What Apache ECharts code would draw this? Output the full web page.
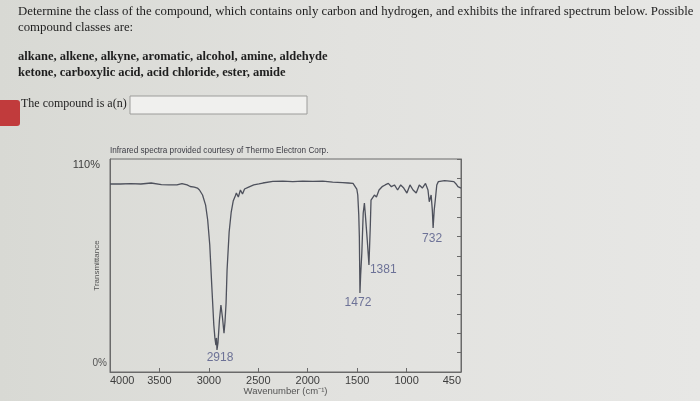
<!DOCTYPE html>
<html><head><meta charset="utf-8">
<script src="https://cdn.jsdelivr.net/npm/echarts@6/dist/echarts.min.js"></script>
<style>html,body{margin:0;padding:0;background:#dfe0dc}#c{width:700px;height:401px}</style>
</head><body><div id="c"></div>
<script>
const wavenumbers = [4000,3990,3896,3792,3688,3584,3480,3407,3324,3272,3220,3189,3147,3116,3095,3064,3033,3012,2991,2970,2950,2939,2929,2923,2918,2908,2893,2878,2862,2847,2837,2826,2816,2795,2774,2754,2733,2722,2702,2681,2660,2639,2598,2546,2494,2454,2353,2252,2151,2050,1949,1848,1748,1647,1590,1542,1523,1504,1494,1484,1478,1472,1465,1453,1439,1427,1417,1398,1381,1367,1360,1326,1305,1279,1248,1217,1185,1154,1123,1091,1060,1029,997,966,935,903,872,841,809,784,771,752,740,732,721,710,695,679,616,566,522,500,481,450];
const transmittance = [97.1,97.1,97.1,97.3,97.1,97.6,96.8,96.6,96.6,97.3,96.6,95.8,95.5,95.0,94.0,91.4,86.2,78.5,65.6,43.9,24.3,17.6,13.9,17.6,11.4,15.0,26.9,34.6,27.9,20.1,25.8,35.6,52.7,72.3,82.6,88.3,90.9,92.4,90.4,94.0,91.9,94.5,95.5,96.6,97.1,97.6,98.4,98.6,98.3,98.6,98.4,98.6,98.1,97.8,97.6,97.4,96.6,94.5,91.4,81.1,69.7,40.8,50.0,61.5,82.1,87.3,81.0,68.0,55.3,75.9,88.8,91.4,90.4,94.0,95.7,96.6,97.4,95.7,96.6,94.0,96.6,95.0,92.4,96.6,94.0,92.4,96.6,95.0,97.4,94.0,87.9,91.4,83.6,74.4,83.6,88.8,96.6,98.3,98.8,98.6,98.3,97.1,95.7,95.0];
const peakWavenumbers = [2918, 1472, 1381, 732];
const peakTransmittance = [11.4, 40.8, 55.3, 74.4];
const xTickValues = [4000, 3500, 3000, 2500, 2000, 1500, 1000, 450];
const yTickValues = [0, 110];
const rightTickValues = [0, 10, 20, 30, 40, 50, 60, 70, 80, 90, 100, 110];

const trace = wavenumbers.map((w, i) => [w, transmittance[i]]);
const peakLabelStyles = [
  {position: 'bottom', distance: 1, offset: [3, 1]},
  {position: 'bottom', distance: 3, offset: [-2, 1]},
  {position: 'right', distance: 1, offset: [0, 5]},
  {position: 'bottom', distance: 4, offset: [-1, 1]}
];
const peaks = peakWavenumbers.map((w, i) => ({value: [w, peakTransmittance[i]], label: peakLabelStyles[i]}));

const serif = '"Liberation Serif", "DejaVu Serif", serif';
const sans = '"Liberation Sans", Arial, sans-serif';
const peakColor = '#4f5585';
const chart = echarts.init(document.getElementById('c'), null, {renderer: 'canvas'});
chart.setOption({
  animation: false,
  backgroundColor: '#dfe0dc',
  graphic: [
    {type: 'rect', z: -10, shape: {x: 0, y: 0, width: 700, height: 401},
     style: {fill: new echarts.graphic.LinearGradient(0, 0, 1, 0, [{offset: 0, color: '#d8d9d4'}, {offset: 0.5, color: '#e2e2df'}, {offset: 1, color: '#e7e7e5'}])}},
    {type: 'text', left: 18, top: 5, style: {text: 'Determine the class of the compound, which contains only carbon and hydrogen, and exhibits the infrared spectrum below. Possible', font: '12.8px ' + serif, fill: '#1e1e1e'}},
    {type: 'text', left: 18, top: 21, style: {text: 'compound classes are:', font: '12.8px ' + serif, fill: '#1e1e1e'}},
    {type: 'text', left: 18, top: 50, style: {text: 'alkane, alkene, alkyne, aromatic, alcohol, amine, aldehyde', font: 'bold 12.5px ' + serif, fill: '#1e1e1e'}},
    {type: 'text', left: 18, top: 66, style: {text: 'ketone, carboxylic acid, acid chloride, ester, amide', font: 'bold 12.5px ' + serif, fill: '#1e1e1e'}},
    {type: 'rect', shape: {x: -6, y: 100, width: 26, height: 26, r: 3}, style: {fill: '#c13b3c'}},
    {type: 'text', left: 21, top: 98, style: {text: 'The compound is a(n)', font: '12px ' + serif, fill: '#1e1e1e'}},
    {type: 'rect', shape: {x: 130, y: 96, width: 177, height: 18}, style: {fill: '#f0f0ee', stroke: '#9c9c9a', lineWidth: 1}},
    {type: 'text', left: 110, top: 147, style: {text: 'Infrared spectra provided courtesy of Thermo Electron Corp.', font: '8.2px ' + sans, fill: '#3c3c44'}}
  ],
  grid: {left: 110, right: 239, top: 159, bottom: 29, show: true, borderColor: '#6a6a6a', borderWidth: 1, backgroundColor: 'transparent'},
  xAxis: {
    type: 'value', inverse: true, min: 450, max: 4000,
    name: 'Wavenumber (cm\u207B\u00B9)', nameLocation: 'middle', nameGap: 14, nameMoveOverlap: false,
    nameTextStyle: {fontFamily: sans, fontSize: 9.5, color: '#555'},
    axisLine: {show: true, lineStyle: {color: '#6a6a6a'}},
    axisTick: {show: true, inside: true, length: 4, customValues: xTickValues, lineStyle: {color: '#6a6a6a'}},
    axisLabel: {customValues: xTickValues, formatter: v => String(v), fontFamily: sans, fontSize: 11, color: '#3d3d3d', margin: 3,
      alignMinLabel: 'left', alignMaxLabel: 'right'},
    splitLine: {show: false}
  },
  yAxis: [{
    type: 'value', min: 0, max: 110, position: 'left',
    name: 'Transmittance', nameLocation: 'middle', nameGap: 9, nameRotate: 90, nameMoveOverlap: false,
    nameTextStyle: {fontFamily: sans, fontSize: 8, color: '#555'},
    axisLine: {show: true, lineStyle: {color: '#6a6a6a'}},
    axisTick: {show: false},
    axisLabel: {customValues: yTickValues, formatter: v => (v === 0 ? '{lo|' : '{hi|') + v + '%}', margin: 3,
      verticalAlignMinLabel: 'bottom', verticalAlignMaxLabel: 'top',
      rich: {
        lo: {fontFamily: sans, fontSize: 10, color: '#555', padding: [0, 0, 4, 0]},
        hi: {fontFamily: sans, fontSize: 11, color: '#3d3d3d', padding: [0, 7, 0, 0]}
      }},
    splitLine: {show: false}
  }, {
    type: 'value', min: 0, max: 110, position: 'right',
    axisLine: {show: true, lineStyle: {color: '#6a6a6a'}},
    axisTick: {show: true, inside: true, length: 4, customValues: rightTickValues, lineStyle: {color: '#6a6a6a'}},
    axisLabel: {show: false},
    splitLine: {show: false}
  }],
  series: [{
    type: 'line', data: trace, showSymbol: false, symbol: 'none',
    lineStyle: {color: '#4e515c', width: 1.3}, z: 3
  }, {
    type: 'scatter', data: peaks, symbolSize: 0, z: 4,
    label: {show: true, fontFamily: sans, fontSize: 12, color: peakColor,
      formatter: p => String(p.value[0])}
  }]
});
</script>
</body></html>
